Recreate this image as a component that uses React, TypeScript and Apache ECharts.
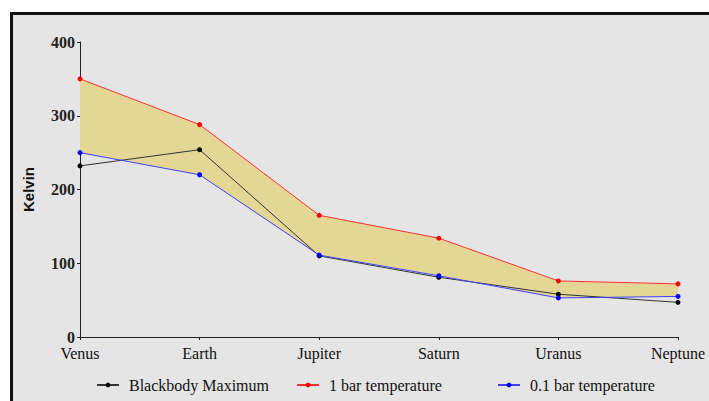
import React, { useEffect, useRef } from "react";
import * as echarts from "echarts";

const categories = ["Venus", "Earth", "Jupiter", "Saturn", "Uranus", "Neptune"];
const blackbodyMax = [232, 254, 110, 81, 58, 47];
const oneBar = [350, 288, 165, 134, 76, 72];
const tenthBar = [250, 220, 111, 83, 53, 55];
const yTicks = [0, 100, 200, 300, 400];
const seriesNames = ["Blackbody Maximum", "1 bar temperature", "0.1 bar temperature"];
const legendLefts = [96, 296, 497];

const SERIF = "'Liberation Serif', 'Times New Roman', serif";

export default function App() {
  const ref = useRef<HTMLDivElement>(null);
  useEffect(() => {
    if (!ref.current) return;
    const chart = echarts.init(ref.current, undefined, { renderer: "svg" });
    const band = oneBar.map((v, i) => v - tenthBar[i]);
    chart.setOption({
      animation: false,
      backgroundColor: "transparent",
      grid: { left: 80, right: 31, top: 42, bottom: 64 },
      legend: seriesNames.map((n, i) => ({
        data: [n],
        left: legendLefts[i],
        top: 377,
        padding: 0,
        itemWidth: 22,
        itemHeight: 6,
        itemGap: 0,
        textStyle: {
          fontFamily: SERIF,
          fontSize: 16,
          color: "#111",
          padding: [0, 0, 0, 5],
        },
      })),
      xAxis: {
        type: "category",
        data: categories,
        boundaryGap: false,
        axisLine: { lineStyle: { color: "#222", width: 1 } },
        axisTick: { show: true, length: 3, lineStyle: { color: "#222" } },
        axisLabel: {
          fontFamily: SERIF,
          fontSize: 16,
          lineHeight: 16,
          color: "#111",
          margin: 8,
          interval: 0,
        },
      },
      yAxis: {
        type: "value",
        min: yTicks[0],
        max: yTicks[yTicks.length - 1],
        interval: 100,
        name: "Kelvin",
        nameLocation: "middle",
        nameRotate: 90,
        nameGap: 44,
        nameTextStyle: {
          fontFamily: "'Liberation Sans', Arial, sans-serif",
          fontWeight: "bold",
          fontSize: 15,
          color: "#111",
        },
        splitLine: { show: false },
        axisLine: { show: true, lineStyle: { color: "#222", width: 1 } },
        axisTick: { show: true, length: 3, lineStyle: { color: "#222" } },
        axisLabel: {
          fontFamily: SERIF,
          fontWeight: "bold",
          fontSize: 16,
          lineHeight: 12,
          color: "#222",
          margin: 5,
          padding: [0, 0, 3, 0],
        },
      },
      series: [
        {
          name: "_base",
          type: "line",
          data: tenthBar,
          stack: "band",
          symbol: "none",
          lineStyle: { width: 0, opacity: 0 },
          silent: true,
          z: 1,
        },
        {
          name: "_band",
          type: "line",
          data: band,
          stack: "band",
          symbol: "none",
          lineStyle: { width: 0, opacity: 0 },
          areaStyle: { color: "#e4d796", opacity: 1 },
          silent: true,
          z: 1,
        },
        {
          name: seriesNames[0],
          type: "line",
          data: blackbodyMax,
          symbol: "circle",
          symbolSize: 5,
          itemStyle: { color: "#000" },
          lineStyle: { color: "#333", width: 1 },
          z: 3,
        },
        {
          name: seriesNames[1],
          type: "line",
          data: oneBar,
          symbol: "circle",
          symbolSize: 5,
          itemStyle: { color: "#ff0000" },
          lineStyle: { color: "#ff3030", width: 1 },
          z: 3,
        },
        {
          name: seriesNames[2],
          type: "line",
          data: tenthBar,
          symbol: "circle",
          symbolSize: 5,
          itemStyle: { color: "#0000ff" },
          lineStyle: { color: "#4040ff", width: 1 },
          z: 3,
        },
      ],
    });
    return () => chart.dispose();
  }, []);

  return (
    <div
      style={{
        position: "fixed",
        left: 0,
        top: 0,
        width: 709,
        height: 401,
        background: "#fff",
        overflow: "hidden",
      }}
    >
      <div
        style={{
          position: "absolute",
          left: 10,
          top: 12,
          width: 699,
          height: 389,
          boxSizing: "border-box",
          borderTop: "3px solid #111",
          borderLeft: "3px solid #111",
          background: "#e5e5e5",
        }}
      />
      <div
        ref={ref}
        style={{ position: "absolute", left: 0, top: 0, width: 709, height: 401 }}
      />
    </div>
  );
}
